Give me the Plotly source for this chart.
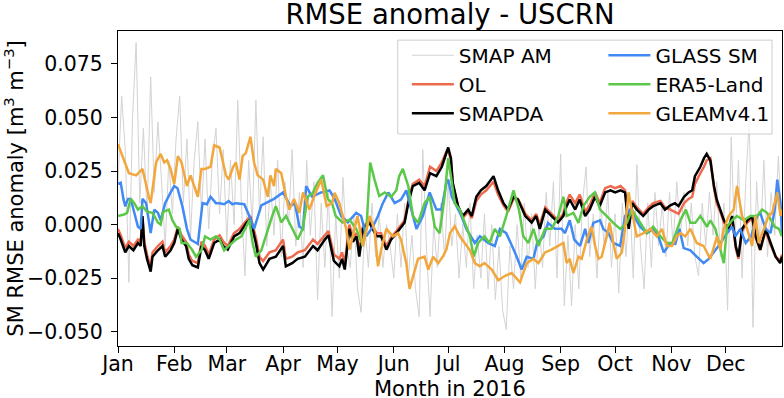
import pandas as pd
import plotly.graph_objects as go

start = pd.Timestamp("2016-01-01")

month_starts = ["2016-%02d-01" % m for m in range(1, 13)]
month_labels = ["Jan", "Feb", "Mar", "Apr", "May", "Jun",
                "Jul", "Aug", "Sep", "Oct", "Nov", "Dec"]
y_ticks = [-0.050, -0.025, 0.000, 0.025, 0.050, 0.075]

# SMAP AM, every 2nd day from Jan 1
smap_step = 2
smap_vals = [
    0.020, 0.060, 0.035, -0.027, 0.050, 0.085, 0.010, 0.045, 0.005, 0.069,
    0.015, 0.048, 0.020, -0.010, 0.030, 0.005, 0.040, 0.060, 0.010, 0.040,
    -0.005, 0.030, 0.048, 0.005, 0.040, -0.002, 0.030, 0.045, 0.005, 0.035,
    -0.008, 0.030, 0.000, 0.058, 0.010, -0.024, 0.030, 0.000, 0.058, 0.005,
    0.041, -0.010, 0.020, -0.005, 0.030, -0.015, 0.020, 0.000, 0.035, -0.010,
    0.015, -0.020, 0.030, -0.005, 0.020, -0.035, 0.010, -0.020, 0.015, -0.043,
    0.005, -0.025, 0.022, -0.010, -0.020, 0.005, -0.030, -0.041, 0.000, -0.020,
    0.010, -0.015, 0.005, -0.020, 0.000, -0.010, -0.025, 0.005, -0.020, 0.010,
    -0.025, -0.005, -0.030, -0.043, 0.035, -0.010, -0.043, 0.000, -0.020, 0.010,
    -0.015, 0.020, -0.010, 0.005, -0.025, 0.000, -0.020, 0.010, -0.030, -0.005,
    -0.025, 0.005, -0.030, 0.000, -0.035, -0.010, -0.040, -0.049, -0.010, -0.030,
    0.000, -0.025, 0.010, -0.020, 0.005, -0.030, 0.000, -0.020, 0.015, -0.010,
    0.020, -0.025, 0.033, -0.038, -0.005, -0.038, 0.000, -0.030, 0.010, 0.027,
    -0.015, 0.005, -0.025, 0.010, -0.010, 0.015, -0.020, 0.005, -0.032, 0.010,
    -0.015, 0.015, -0.025, 0.028, -0.010, -0.030, 0.010, -0.020, 0.015, -0.010,
    0.010, -0.015, 0.015, -0.010, 0.020, -0.005, 0.015, -0.010, 0.010, -0.015,
    -0.024, 0.010, -0.010, 0.015, -0.005, 0.020, -0.015, 0.010, -0.040, 0.041,
    -0.010, 0.030, -0.025, 0.020, 0.049, -0.048, 0.020, -0.010, 0.030, -0.015,
    0.015, -0.005, 0.032, -0.005,
]

# OL and SMAPDA share the same sampling days
da_days = [
    0, 1.5, 4, 6, 8.5, 11, 12.5, 13.5, 14.5, 16,
    18, 19, 22, 24.5, 26, 29, 31, 33, 35, 37.5,
    39, 41, 44, 46, 48, 50, 53, 56, 58, 60.5,
    64, 67, 71, 73, 76, 78, 80, 83.5, 87, 91,
    92.5, 96, 99, 103, 107.5, 110, 114, 116, 119, 122,
    123.5, 125, 127.5, 129.5, 131.5, 133, 135, 138.5, 142.5, 145,
    148, 150.5, 153.5, 156, 158, 160, 162.5, 166, 169, 172,
    175.5, 178.5, 181, 182, 183.5, 184.5, 187.5, 190, 193, 195,
    197.5, 200, 203, 207, 209.5, 212.5, 215, 218, 220.5, 224.5,
    228, 230.5, 232.5, 235.5, 239, 242.5, 245.5, 246.5, 249, 252,
    254.5, 257.5, 260, 263, 265.5, 268.5, 271.5, 274, 277, 279.5,
    281.5, 283.5, 286, 289.5, 292.5, 295, 299, 301.5, 304.5, 307,
    309, 312, 314.5, 316.5, 318, 321, 323, 324.5, 326.5, 328.5,
    330, 332, 334, 336.5, 338.5, 340.5, 342, 344, 347, 349.5,
    351.5, 354, 357, 359.5, 362.5, 365, 366,
]
smapda_vals = [
    -0.004, -0.007, -0.013, -0.010, -0.012, -0.0086, -0.010, 0.004, -0.010, -0.016,
    -0.022, -0.015, -0.012, -0.010, -0.015, -0.012, -0.0086, -0.002, -0.007, -0.010,
    -0.016, -0.019, -0.020, -0.010, -0.012, -0.016, -0.0086, -0.007, -0.010, -0.0117,
    -0.0055, -0.004, 0.001, 0.0023, -0.0086, -0.018, -0.021, -0.016, -0.015, -0.010,
    -0.0195, -0.018, -0.016, -0.015, -0.010, -0.012, -0.007, -0.005, -0.017, -0.0195,
    -0.016, -0.021, -0.002, -0.008, -0.0055, -0.015, -0.002, 0.001, -0.0055, -0.0055,
    -0.0117, -0.007, -0.004, -0.001, 0.001, 0.010, 0.018, 0.0195, 0.016, 0.024,
    0.0226, 0.027, 0.0335, 0.036, 0.031, 0.0195, 0.0086, 0.004, 0.007, 0.004,
    0.013, 0.016, 0.018, 0.0226, 0.016, 0.010, 0.007, 0.013, 0.0117, 0.004,
    0.001, 0.004, -0.002, 0.007, 0.004, 0.001, 0.004, 0.007, 0.0117, 0.007,
    0.0117, 0.004, 0.007, 0.013, 0.0086, 0.015, 0.016, 0.015, 0.016, 0.015,
    -0.002, 0.010, 0.007, 0.004, 0.007, 0.0086, 0.010, 0.007, 0.009, 0.010,
    0.0086, 0.013, 0.015, 0.016, 0.0226, 0.027, 0.031, 0.033, 0.030, 0.018,
    0.0117, 0.007, 0.002, -0.002, 0.004, -0.010, -0.015, -0.002, 0.002, 0.004,
    -0.0055, -0.0117, -0.002, -0.008, -0.015, -0.018, -0.015,
]
ol_vals = [
    -0.002, -0.005, -0.011, -0.008, -0.010, -0.007, -0.008, 0.003, -0.008, -0.014,
    -0.020, -0.013, -0.010, -0.008, -0.013, -0.010, -0.007, -0.001, -0.005, -0.008,
    -0.014, -0.017, -0.018, -0.008, -0.010, -0.014, -0.007, -0.005, -0.008, -0.010,
    -0.004, -0.002, 0.002, 0.004, -0.006, -0.015, -0.017, -0.013, -0.012, -0.007,
    -0.016, -0.015, -0.013, -0.012, -0.007, -0.009, -0.005, -0.003, -0.014, -0.016,
    -0.013, -0.018, 0.000, -0.006, -0.004, -0.013, -0.001, 0.002, -0.004, -0.004,
    -0.010, -0.006, -0.003, 0.000, 0.002, 0.011, 0.019, 0.021, 0.018, 0.027,
    0.025, 0.029, 0.034, 0.035, 0.030, 0.019, 0.008, 0.003, 0.006, 0.003,
    0.011, 0.014, 0.016, 0.020, 0.014, 0.009, 0.006, 0.012, 0.012, 0.005,
    0.002, 0.005, 0.000, 0.008, 0.005, 0.002, 0.005, 0.009, 0.014, 0.010,
    0.014, 0.006, 0.009, 0.015, 0.010, 0.017, 0.018, 0.017, 0.018, 0.016,
    0.000, 0.011, 0.008, 0.005, 0.008, 0.010, 0.011, 0.008, 0.007, 0.006,
    0.005, 0.010, 0.012, 0.013, 0.019, 0.024, 0.027, 0.030, 0.031, 0.017,
    0.010, 0.006, 0.001, -0.003, 0.003, -0.011, -0.016, -0.003, 0.001, 0.003,
    -0.006, -0.012, -0.003, -0.009, -0.015, -0.017, -0.014,
]

glass_days = [
    0, 1.5, 3, 4, 5.5, 7, 9, 11, 12.5, 13.5,
    15.5, 18, 20, 22, 23.5, 26, 29, 31, 32.8, 35.5,
    38, 40, 42, 44, 46.6, 49, 51, 54, 56, 58.5,
    61, 63, 65, 69.6, 72.4, 75, 79, 82.5, 86, 91,
    95, 97.5, 100, 102, 103.7, 107, 112, 116.6, 119.4, 123,
    126.7, 131.3, 134, 136.8, 140.5, 143.3, 146, 149, 152.5, 156,
    158.9, 161.7, 164.5, 168, 171.8, 175.5, 178.3, 181, 182, 184,
    186.6, 189.3, 192, 196.7, 199.5, 204, 207.7, 210.5, 214, 218.8,
    222.5, 225.3, 229, 231, 234.6, 237, 240.8, 244.5, 246.4, 249,
    251.5, 254.7, 257.5, 259.3, 262, 265.7, 267.5, 270.3, 273, 276.8,
    279.5, 282.3, 287.8, 291.5, 295, 297.9, 300.8, 304.4, 307.2, 309.5,
    311.8, 315.5, 319, 322.8, 325.6, 328.4, 331, 335.7, 338.5, 340.3,
    343, 346, 349, 352.3, 354, 357, 359.7, 362, 363.4, 365.2,
    366,
]
glass_vals = [
    0.019, 0.0195, 0.012, 0.0085, 0.012, 0.012, 0.0055, -0.001, -0.002, 0.012,
    0.010, -0.004, 0.007, 0.0055, 0.002, 0.010, 0.015, 0.018, 0.017, 0.0085,
    -0.002, -0.007, -0.008, -0.009, 0.010, 0.0095, 0.013, 0.010, 0.010, 0.0095,
    0.011, 0.0095, 0.010, 0.0095, 0.004, -0.002, 0.009, 0.0105, 0.012, 0.015,
    0.0086, 0.010, -0.001, -0.002, 0.018, 0.013, 0.015, 0.016, 0.012, 0.004,
    0.001, 0.0055, 0.004, -0.0055, -0.001, 0.004, 0.010, 0.015, 0.010, 0.0117,
    0.016, 0.007, -0.002, 0.004, 0.015, 0.007, 0.007, 0.0195, 0.021, 0.013,
    0.0086, 0.004, -0.002, -0.0086, -0.0055, -0.0086, -0.010, -0.002, -0.004, -0.013,
    -0.021, -0.015, -0.016, -0.0086, -0.0055, 0.0008, -0.002, -0.002, -0.004, 0.002,
    -0.007, -0.010, -0.002, -0.0086, 0.0008, 0.002, -0.002, -0.004, -0.0086, -0.010,
    0.004, 0.007, -0.001, -0.004, -0.002, -0.0055, -0.013, -0.0086, -0.009, -0.002,
    -0.011, -0.012, -0.015, -0.018, -0.016, -0.013, -0.010, -0.004, -0.001, -0.0055,
    -0.002, -0.0086, -0.0055, 0.004, 0.0055, -0.002, -0.004, 0.007, 0.021, 0.010,
    -0.005,
]

era5_days = [
    0, 3.3, 5, 7, 9, 11, 13.5, 16, 19, 22,
    23.5, 25, 28, 30, 32, 34, 35, 38, 41, 43,
    46, 48, 51, 54, 56, 58.5, 61, 65, 68, 70.5,
    72.4, 74.2, 76, 79, 82.5, 85, 87, 90, 92.6, 95.4,
    99, 101.8, 104.6, 107.4, 110, 113, 115.6, 118, 120, 123.8,
    127.6, 131.3, 135, 137, 139, 141.4, 144, 147, 150.6, 153.4,
    155, 157, 160, 162.6, 165.4, 169, 171.8, 174.6, 177.3, 180,
    182, 183.5, 185.6, 188.4, 191, 194, 196, 198.5, 202, 204.8,
    207.7, 210.5, 214, 218, 221, 223.4, 226.2, 229, 231.7, 235.4,
    239, 242.7, 245.5, 247.3, 251, 253.8, 256.5, 260, 262.8, 265.7,
    269.4, 273, 276.8, 280.5, 283.3, 286.9, 291.5, 295, 299, 302.6,
    305.5, 307.5, 310, 313, 315.5, 318.2, 321, 324.7, 326.5, 329.3,
    332, 333.9, 335.7, 338.5, 341.2, 344.9, 348.6, 352.3, 355, 357.8,
    362, 364.3, 366,
]
era5_vals = [
    0.004, 0.0047, 0.0055, 0.012, 0.010, 0.007, 0.0086, 0.006, 0.0055, 0.001,
    0.000, 0.006, 0.007, 0.002, -0.001, -0.002, -0.0086, -0.0086, -0.012, -0.015,
    -0.012, -0.0055, -0.007, -0.0055, -0.007, -0.012, -0.010, -0.007, -0.0055, -0.001,
    0.002, -0.0086, -0.015, -0.012, -0.002, 0.004, 0.0086, 0.001, 0.004, -0.001,
    -0.007, -0.002, 0.013, 0.0148, 0.0195, 0.023, 0.012, 0.010, 0.004, 0.001,
    0.0023, -0.002, -0.010, -0.001, 0.029, 0.021, 0.0133, 0.015, 0.013, 0.016,
    0.0226, 0.026, 0.018, 0.004, 0.0008, 0.010, 0.013, -0.001, -0.004, 0.013,
    0.031, 0.0226, 0.010, 0.007, 0.0008, -0.0055, -0.015, -0.0086, -0.0055, -0.0086,
    -0.002, -0.0055, 0.004, 0.016, 0.007, -0.0055, -0.0086, -0.002, -0.010, -0.002,
    -0.002, 0.004, 0.013, 0.004, 0.0055, 0.0008, 0.0086, 0.013, 0.015, 0.007,
    0.004, 0.0008, -0.002, 0.0008, 0.007, 0.0023, -0.004, -0.001, -0.0055, -0.0086,
    -0.0086, -0.004, 0.002, 0.007, 0.0008, 0.0008, 0.004, -0.001, 0.002, -0.002,
    -0.0117, -0.018, -0.001, 0.002, 0.004, 0.002, 0.004, 0.004, 0.007, 0.0055,
    -0.001, -0.002, -0.0055,
]

gleam_days = [
    0, 3, 6, 10, 13.5, 17, 18, 21, 23.5, 25.5,
    27, 29, 31, 33, 35, 38, 40, 42, 44, 46,
    48, 51, 53, 56, 58, 59.5, 61, 63.5, 65, 67,
    68.7, 70.5, 73, 75, 77, 80, 82.5, 84, 86, 87,
    90, 92.6, 94.5, 97, 100, 102, 105.5, 108, 112, 115,
    118, 119.4, 122, 125.8, 127.6, 130.4, 132, 135, 138.7, 141.4,
    143.3, 145.1, 147.9, 151.5, 154.3, 156, 158.9, 160.7, 162.6, 165.4,
    169, 171, 173.7, 176.5, 179, 181, 183, 185.6, 188.4, 191,
    194, 196.7, 199.4, 202, 206, 209.6, 213.2, 217, 221.6, 225.3,
    229, 231.7, 235.4, 239, 242.7, 245.5, 247.3, 249, 251, 253.8,
    255.6, 258.4, 261, 263, 264.8, 266.6, 269.4, 271, 273, 274.9,
    277.7, 279.5, 281.4, 284, 285.9, 289.7, 293.4, 297, 299.8, 302.6,
    305.3, 308, 310, 312.7, 315.5, 319, 322.8, 326.5, 330.2, 332,
    333.9, 336.6, 339.4, 341.2, 344, 346.8, 349.5, 351.4, 353.2, 356,
    358.6, 360.6, 363.4, 365.2, 366,
]
gleam_vals = [
    0.0375, 0.031, 0.024, 0.023, 0.026, 0.013, 0.010, 0.029, 0.033, 0.029,
    0.030, 0.026, 0.019, 0.032, 0.029, 0.018, 0.023, 0.018, 0.013, 0.026,
    0.026, 0.027, 0.037, 0.036, 0.029, 0.023, 0.021, 0.027, 0.029, 0.021,
    0.032, 0.0335, 0.041, 0.029, 0.023, 0.021, 0.013, 0.023, 0.018, 0.026,
    0.024, 0.013, 0.007, 0.012, 0.0055, 0.015, 0.007, 0.013, 0.021, 0.0086,
    0.010, 0.0148, 0.010, -0.002, -0.0117, -0.0023, 0.004, -0.010, 0.004, -0.0023,
    -0.0195, -0.0117, -0.002, -0.0055, -0.004, -0.007, -0.018, -0.030, -0.024, -0.016,
    -0.015, -0.021, -0.015, -0.018, -0.015, -0.0117, -0.004, -0.0008, -0.0055, -0.0086,
    -0.012, -0.018, -0.0195, -0.018, -0.021, -0.026, -0.024, -0.0226, -0.027, -0.018,
    -0.016, -0.018, -0.013, -0.0117, -0.010, -0.0086, -0.018, -0.016, -0.0226, -0.015,
    -0.016, -0.007, -0.001, -0.010, -0.016, -0.015, -0.0055, 0.0008, -0.0086, -0.016,
    -0.013, -0.002, 0.015, 0.004, -0.0055, -0.004, -0.002, -0.0055, -0.002, -0.010,
    -0.010, -0.0055, -0.004, -0.0055, -0.002, -0.0086, -0.010, -0.016, -0.0055, -0.0117,
    -0.002, 0.004, 0.007, 0.018, 0.004, -0.002, -0.010, 0.004, -0.0086, -0.002,
    0.004, 0.0055, 0.015, 0.004, 0.007,
]


def to_dates(days):
    return [start + pd.Timedelta(days=d) for d in days]


smap_days = [i * smap_step for i in range(len(smap_vals))]

series = [
    ("SMAP AM", smap_days, smap_vals, "#d3d3d3", 1, "legend"),
    ("OL", da_days, ol_vals, "#ee6a4d", 2.5, "legend"),
    ("SMAPDA", da_days, smapda_vals, "black", 2.5, "legend"),
    ("GLASS SM", glass_days, glass_vals, "#4189f3", 2.5, "legend2"),
    ("ERA5-Land", era5_days, era5_vals, "#5cc84a", 2.5, "legend2"),
    ("GLEAMv4.1", gleam_days, gleam_vals, "#f2a73c", 2.5, "legend2"),
]

fig = go.Figure()
for name, days, vals, color, width, leg in series:
    fig.add_trace(go.Scatter(
        x=to_dates(days), y=vals, mode="lines", name=name,
        line=dict(color=color, width=width), legend=leg,
    ))

font = dict(family="DejaVu Sans", size=20, color="black")
tick_font = dict(family="DejaVu Sans", size=20.5, color="black")
label_font = dict(family="DejaVu Sans", size=21, color="black")

fig.update_layout(
    width=784, height=398,
    margin=dict(l=118, r=2, t=31, b=52),
    plot_bgcolor="white", paper_bgcolor="white",
    font=font,
    title=dict(text="RMSE anomaly - USCRN", x=0.5, xref="paper", xanchor="center",
               y=0.988, yref="container", yanchor="top",
               font=dict(family="DejaVu Sans", size=27.5, color="black")),
    legend=dict(x=0.435, y=0.985, xanchor="left", yanchor="top",
                bgcolor="rgba(0,0,0,0)", font=font, itemwidth=42),
    legend2=dict(x=0.731, y=0.985, xanchor="left", yanchor="top",
                 bgcolor="rgba(0,0,0,0)", font=font, itemwidth=42),
    shapes=[dict(type="rect", xref="paper", yref="paper",
                 x0=0.4213, x1=0.985, y0=0.673, y1=0.971,
                 line=dict(color="#cccccc", width=1),
                 fillcolor="rgba(255,255,255,0.8)", layer="above")],
    # x-axis label as an annotation so it sits just under the month names
    annotations=[dict(text="Month in 2016", xref="paper", yref="paper",
                      x=0.5, y=-0.137, xanchor="center", yanchor="middle",
                      showarrow=False, font=label_font)],
)

fig.update_xaxes(
    range=["2016-01-01", "2017-01-01"],
    tickvals=month_starts, ticktext=month_labels, tickfont=tick_font,
    ticks="outside", ticklen=6, tickcolor="black", ticklabelstandoff=-7,
    showline=True, linecolor="black", linewidth=1, mirror=True,
    showgrid=False, zeroline=False, automargin=False,
)
fig.update_yaxes(
    range=[-0.0567, 0.0904],
    tickvals=y_ticks, tickformat=".3f", tickfont=tick_font,
    ticks="outside", ticklen=6, tickcolor="black", ticklabelstandoff=4,
    showline=True, linecolor="black", linewidth=1, mirror=True,
    showgrid=False, zeroline=False, automargin=False,
    title=dict(text="SM RMSE anomaly [m<sup>3</sup> m<sup>\u22123</sup>]",
               standoff=6, font=label_font),
)

# page body has a default 8px margin; drop it so the figure sits at 0,0
fig.write_html("out.html", config={"displayModeBar": False},
               post_script="document.body.style.margin='0';")
